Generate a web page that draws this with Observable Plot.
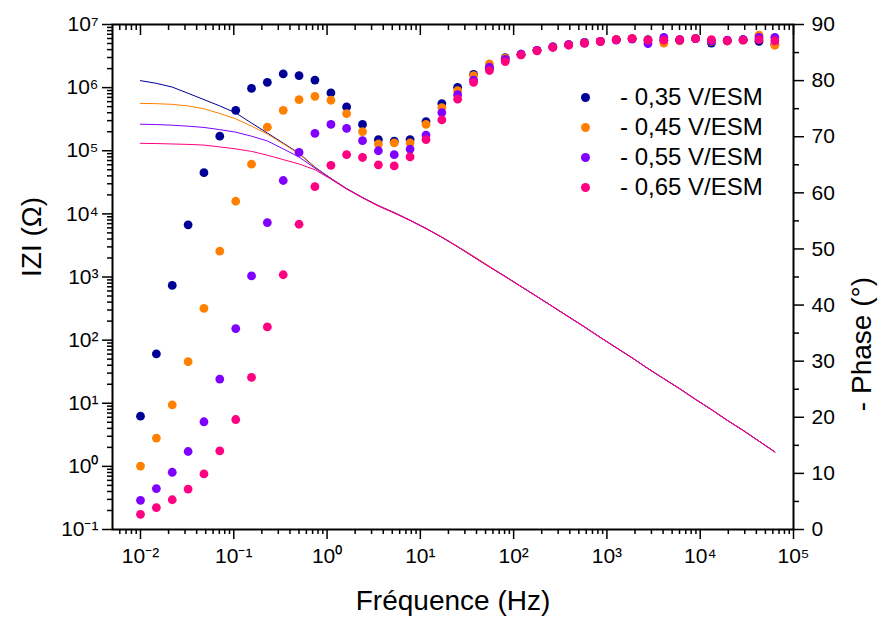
<!DOCTYPE html>
<html>
<head>
<meta charset="utf-8">
<script src="https://cdn.jsdelivr.net/npm/d3@7"></script>
<script src="https://cdn.jsdelivr.net/npm/@observablehq/plot@0.6"></script>
<style>
  body { margin: 0; background: white; }
  #wrap { position: relative; width: 878px; height: 621px; font-family: "Liberation Sans", Arial, sans-serif; }
  #legend { position: absolute; left: 0; top: 0; }
  .row { position: absolute; display: flex; align-items: center; height: 30px; }
  .dot { width: 9px; height: 9px; border-radius: 50%; }
  .lab { position: absolute; left: 39px; white-space: nowrap; font-size: 24px; color: #000; line-height: 30px; }
</style>
</head>
<body>
<div id="wrap"><div id="chart"></div><div id="legend"></div></div>
<script>
// Series names (legend) and colours
const series = ["- 0,35 V/ESM", "- 0,45 V/ESM", "- 0,55 V/ESM", "- 0,65 V/ESM"];
const colors = ["#000096", "#FF8000", "#8000FF", "#FF0080"];

// Frequencies (Hz)
const freq = [0.01, 0.0148, 0.0219, 0.0324, 0.0479, 0.0708, 0.105, 0.155, 0.229, 0.339,
  0.501, 0.741, 1.10, 1.62, 2.40, 3.55, 5.25, 7.76, 11.5, 17.0,
  25.1, 37.2, 55.0, 81.3, 120, 178, 263, 389, 575, 851,
  1259, 1862, 2754, 4074, 6026, 8913, 13183, 19498, 28840, 42658, 63096];

// - Phase (degrees), right axis
const phase035 = [20.2, 31.3, 43.5, 54.3, 63.6, 70.1, 74.7, 78.6, 79.7, 81.2,
  80.9, 80.1, 77.8, 75.3, 72.2, 69.5, 69.2, 69.5, 72.7, 75.9,
  78.8, 81.1, 82.2, 84.1, 84.7, 85.4, 86.0, 86.4, 86.8, 87.0,
  87.3, 87.5, 87.3, 87.2, 87.3, 87.5, 86.7, 87.1, 87.3, 87.0, 86.5];
const phase045 = [11.3, 16.3, 22.2, 29.9, 39.4, 49.6, 58.5, 65.1, 71.7, 74.7,
  76.6, 77.2, 76.5, 74.1, 70.9, 68.7, 68.9, 68.9, 72.2, 75.2,
  78.2, 80.9, 83.0, 84.0, 84.6, 85.4, 86.0, 86.4, 86.7, 87.0,
  87.3, 87.5, 87.2, 86.7, 87.1, 87.5, 87.0, 87.1, 87.2, 88.1, 86.3];
const phase055 = [5.2, 7.3, 10.2, 13.9, 19.2, 26.8, 35.8, 45.2, 54.7, 62.2,
  67.2, 70.6, 72.2, 71.5, 69.3, 67.5, 66.8, 67.8, 70.3, 74.3,
  77.5, 80.1, 82.4, 83.8, 84.7, 85.4, 86.0, 86.4, 86.7, 87.0,
  87.2, 87.4, 86.6, 87.7, 87.2, 87.5, 87.1, 87.2, 87.3, 87.7, 87.7];
const phase065 = [2.7, 3.9, 5.3, 7.2, 9.9, 14.0, 19.6, 27.1, 36.1, 45.4,
  54.4, 61.1, 64.9, 66.8, 66.3, 65.0, 64.8, 66.4, 69.5, 73.0,
  76.7, 79.7, 81.8, 83.4, 84.6, 85.3, 85.9, 86.3, 86.7, 87.0,
  87.3, 87.5, 87.2, 87.2, 87.3, 87.5, 87.3, 87.1, 87.2, 87.3, 87.1];

// |Z| (Ohm), left axis
const z035 = [1.29e6, 1.17e6, 1.02e6, 8.13e5, 6.46e5, 5.13e5, 3.98e5, 2.75e5, 1.91e5, 1.32e5,
  9.12e4, 5.50e4, 3.65e4, 2.52e4, 1.82e4, 1.35e4, 1.05e4, 7940, 5890, 4270,
  3020, 2090, 1450, 1020, 708, 490, 339, 234, 162, 110,
  75.9, 52.5, 35.5, 24.5, 17.0, 11.5, 7.94, 5.37, 3.72, 2.51, 1.70];
const z045 = [5.62e5, 5.57e5, 5.43e5, 5.13e5, 4.62e5, 3.89e5, 3.20e5, 2.45e5, 1.84e5, 1.29e5,
  8.91e4, 5.43e4, 3.63e4, 2.51e4, 1.82e4, 1.35e4, 1.05e4, 7940, 5890, 4300,
  3050, 2140, 1480, 1020, 708, 490, 339, 234, 162, 110,
  75.9, 52.5, 35.5, 24.5, 17.0, 11.5, 7.94, 5.37, 3.72, 2.51, 1.70];
const z055 = [2.63e5, 2.60e5, 2.54e5, 2.45e5, 2.34e5, 2.16e5, 1.97e5, 1.70e5, 1.43e5, 1.07e5,
  7.94e4, 5.31e4, 3.62e4, 2.50e4, 1.81e4, 1.34e4, 1.04e4, 7900, 5870, 4270,
  3020, 2090, 1450, 1020, 708, 490, 339, 234, 162, 110,
  75.9, 52.5, 35.5, 24.5, 17.0, 11.5, 7.94, 5.37, 3.72, 2.51, 1.70];
const z065 = [1.31e5, 1.30e5, 1.28e5, 1.26e5, 1.23e5, 1.15e5, 1.07e5, 9.77e4, 8.51e4, 7.24e4,
  6.17e4, 5.01e4, 3.55e4, 2.47e4, 1.79e4, 1.33e4, 1.03e4, 7850, 5840, 4250,
  3010, 2080, 1440, 1010, 705, 488, 338, 233, 161, 110,
  75.5, 52.2, 35.3, 24.4, 16.9, 11.5, 7.90, 5.35, 3.70, 2.50, 1.69];

// Tick values
const xMajor = [1e-2, 1e-1, 1e0, 1e1, 1e2, 1e3, 1e4, 1e5];
const yMajor = [1e-1, 1e0, 1e1, 1e2, 1e3, 1e4, 1e5, 1e6, 1e7];
const phaseMajor = [0, 10, 20, 30, 40, 50, 60, 70, 80, 90];
const phaseMinor = [5, 15, 25, 35, 45, 55, 65, 75, 85];
const minorMult = [2, 3, 4, 5, 6, 7, 8, 9];

const xMinor = [];
for (const d of [1e-3, ...xMajor.slice(0, -1)]) for (const m of minorMult) { const v = d * m; if (v > 10 ** -2.3 && v < 1e5) xMinor.push(v); }
const yMinor = [];
for (const d of yMajor.slice(0, -1)) for (const m of minorMult) yMinor.push(d * m);

const phaseList = [phase035, phase045, phase055, phase065];
const zList = [z035, z045, z055, z065];

// Right axis (phase, linear 0..90) maps onto the same vertical extent as the log |Z| axis (1e-1..1e7)
const phaseToZ = p => Math.pow(10, -1 + p * 8 / 90);

const lineData = [];
const dotData = [];
series.forEach((s, i) => {
  freq.forEach((f, k) => {
    lineData.push({f, z: zList[i][k], s});
    dotData.push({f, phase: phaseList[i][k], s});
  });
});

const supMap = {"-": "\u207B", "0": "\u2070", "1": "\u00B9", "2": "\u00B2", "3": "\u00B3", "4": "\u2074", "5": "\u2075", "6": "\u2076", "7": "\u2077", "8": "\u2078", "9": "\u2079"};
const sup = d => "10" + String(Math.round(Math.log10(d))).split("").map(c => supMap[c]).join("");

const font = "'Liberation Sans', Arial, sans-serif";

const chart = Plot.plot({
  width: 878,
  height: 621,
  marginLeft: 112,
  marginRight: 85,
  marginTop: 24,
  marginBottom: 92,
  style: {fontFamily: font, fontSize: "21px", color: "#000", background: "white", overflow: "visible"},
  x: {type: "log", domain: [Math.pow(10, -2.3), 1e5]},
  y: {type: "log", domain: [0.1, 1e7]},
  color: {domain: series, range: colors},
  marks: [
    Plot.line(lineData, {x: "f", y: "z", z: "s", stroke: "s", strokeWidth: 1}),
    Plot.dot(dotData, {x: "f", y: d => phaseToZ(d.phase), fill: "s", r: 4.4}),
    Plot.axisX({anchor: "bottom", ticks: xMajor, tickSize: 10, tickPadding: 9, tickFormat: sup, label: null, fontSize: 21, strokeWidth: 1.5}),
    Plot.axisX({anchor: "bottom", ticks: xMinor, tickSize: 5, tickFormat: () => "", label: null, strokeWidth: 1.5}),
    Plot.axisX({anchor: "top", ticks: xMajor, tickSize: 10, dy: 10, tickFormat: () => "", label: null, strokeWidth: 1.5}),
    Plot.axisX({anchor: "top", ticks: xMinor, tickSize: 5, dy: 5, tickFormat: () => "", label: null, strokeWidth: 1.5}),
    Plot.axisY({anchor: "left", ticks: yMajor, tickSize: 10, tickPadding: 4, tickFormat: sup, label: null, fontSize: 21, strokeWidth: 1.5}),
    Plot.axisY({anchor: "left", ticks: yMinor, tickSize: 5, tickFormat: () => "", label: null, strokeWidth: 1.5}),
    Plot.axisY({anchor: "right", ticks: phaseMajor.map(phaseToZ), tickSize: 10, tickFormat: () => "", label: null, strokeWidth: 1.5}),
    Plot.axisY({anchor: "right", ticks: phaseMinor.map(phaseToZ), tickSize: 5, tickFormat: () => "", label: null, strokeWidth: 1.5}),
    Plot.text(phaseMajor, {y: p => phaseToZ(p), text: p => String(p), frameAnchor: "right", dx: 18, textAnchor: "start", fontSize: 21}),
    Plot.frame({stroke: "#000", strokeWidth: 2}),
    Plot.text(["Fréquence (Hz)"], {frameAnchor: "bottom", dy: 80, fontSize: 28}),
    Plot.text(["IZI (\u03A9)"], {frameAnchor: "left", dx: -80, rotate: -90, fontSize: 28}),
    Plot.text(["- Phase (\u00B0)"], {frameAnchor: "right", dx: 69, rotate: -90, fontSize: 28})
  ]
});
document.getElementById("chart").appendChild(chart);

// Legend (inside plot area, top right)
const legend = document.getElementById("legend");
series.forEach((s, i) => {
  const row = document.createElement("div");
  row.className = "row";
  row.style.left = "581px";
  row.style.top = (82 + i * 30) + "px";
  const dot = document.createElement("div");
  dot.className = "dot";
  dot.style.background = colors[i];
  const lab = document.createElement("div");
  lab.className = "lab";
  lab.textContent = s;
  row.appendChild(dot);
  row.appendChild(lab);
  legend.appendChild(row);
});
</script>
</body>
</html>
